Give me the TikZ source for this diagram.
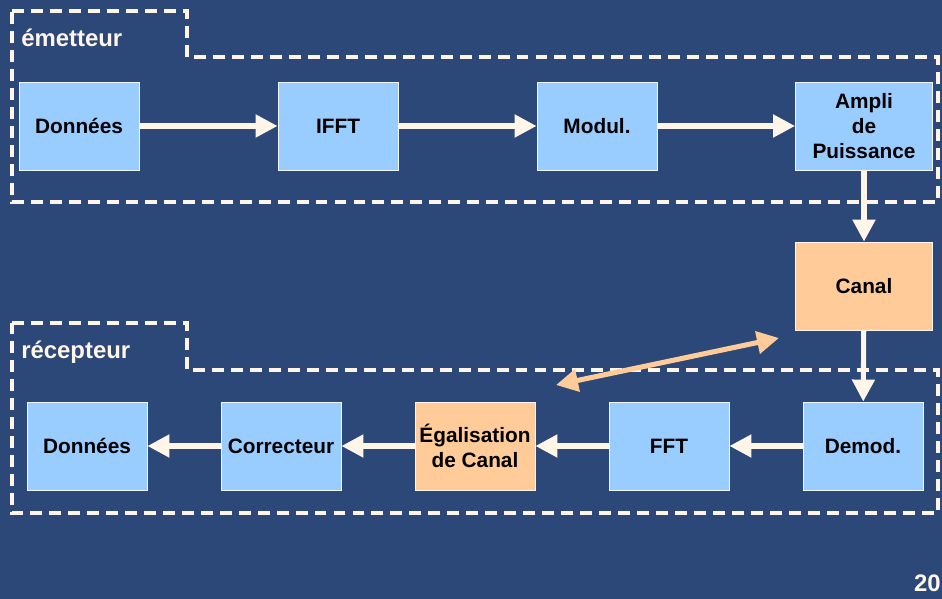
\documentclass[tikz,border=0pt]{standalone}
\usepackage{fontspec}
\setmainfont{Liberation Sans}
\usetikzlibrary{arrows.meta}
\definecolor{seablue}{RGB}{44,72,120}
\definecolor{boxblue}{RGB}{153,204,255}
\definecolor{boxorange}{RGB}{255,204,153}
\definecolor{cream}{RGB}{255,245,232}
\begin{document}
\begin{tikzpicture}[x=0.025cm,y=0.025cm,font=\fontsize{14.8}{18}\selectfont\bfseries]
	\def \rowtop{473}
	\def \rowcanal{313}
	\def \rowbot{153}
	\tikzstyle{b-node}=[rectangle,draw=white!85!boxblue,line width=0.6pt,fill=boxblue,text=black,align=center,minimum width=3cm,minimum height=2.2cm,inner sep=1pt]
	\tikzstyle{o-node}=[b-node,fill=boxorange,draw=white!85!boxorange]
	\tikzstyle{w-node}=[b-node,minimum width=3.425cm]
	\tikzstyle{annot}=[text=cream,font=\fontsize{17}{20}\selectfont\bfseries,inner sep=0pt]
	\tikzstyle{zone}=[draw=cream,line width=2.2pt,dash pattern=on 8.5pt off 5pt]
	\tikzstyle{flow}=[draw=cream,fill=cream,line width=3.6pt,-{Triangle[length=0.55cm,width=0.55cm]}]
	\tikzstyle{link}=[draw=boxorange,fill=boxorange,line width=3.6pt,{Triangle[length=0.55cm,width=0.55cm]}-{Triangle[length=0.55cm,width=0.55cm]}]
	% background
	\fill[seablue] (0,0) rectangle (942,599);
	\useasboundingbox (0,0) rectangle (942,599);
	% zones
	\draw[zone] (12,588) -- (187,588) -- (187,542) -- (938,542) -- (938,397) -- (12,397) -- cycle;
	\draw[zone] (12,276) -- (187,276) -- (187,229) -- (938,229) -- (938,86) -- (12,86) -- cycle;
	% labels
	\node[annot,anchor=base west] (tx-label) at (21,552) {émetteur};
	\node[annot,anchor=base west] (rx-label) at (21,240) {récepteur};
	\node[annot,anchor=base east] (page) at (941,7) {20};
	
	% emetteur
	\node[b-node] 	(tx-data)	at (79,\rowtop)		{Données};
	\node[b-node] 	(ifft)		at (338,\rowtop)	{IFFT};
	\node[b-node] 	(modul)		at (597,\rowtop)	{Modul.};
	\node[w-node] 	(ampli)		at (864,\rowtop)	{Ampli\\de\\Puissance};
	
	% canal
	\node[o-node,minimum width=3.425cm] 	(canal)	at (864,\rowcanal)	{Canal};
	
	% recepteur
	\node[b-node] 	(demod)		at (863,\rowbot)	{Demod.};
	\node[b-node] 	(fft)		at (669,\rowbot)	{FFT};
	\node[o-node] 	(egal)		at (475,\rowbot)	{Égalisation\\de Canal};
	\node[b-node] 	(correct)	at (281,\rowbot)	{Correcteur};
	\node[b-node] 	(rx-data)	at (87,\rowbot)		{Données};
	
	\coordinate (ch-tip) at (779,261);
	\coordinate (eq-tip) at (556,214);
	
	\path[every edge/.append style=flow]
		(tx-data)	edge	(ifft)
		(ifft)		edge	(modul)
		(modul)		edge	(ampli)
		(ampli)		edge	(canal)
		(canal)		edge	(demod)
		(demod)		edge	(fft)
		(fft)		edge	(egal)
		(egal)		edge	(correct)
		(correct)	edge	(rx-data);
	\path (eq-tip) edge[link] (ch-tip);
		
\end{tikzpicture}
\end{document}
